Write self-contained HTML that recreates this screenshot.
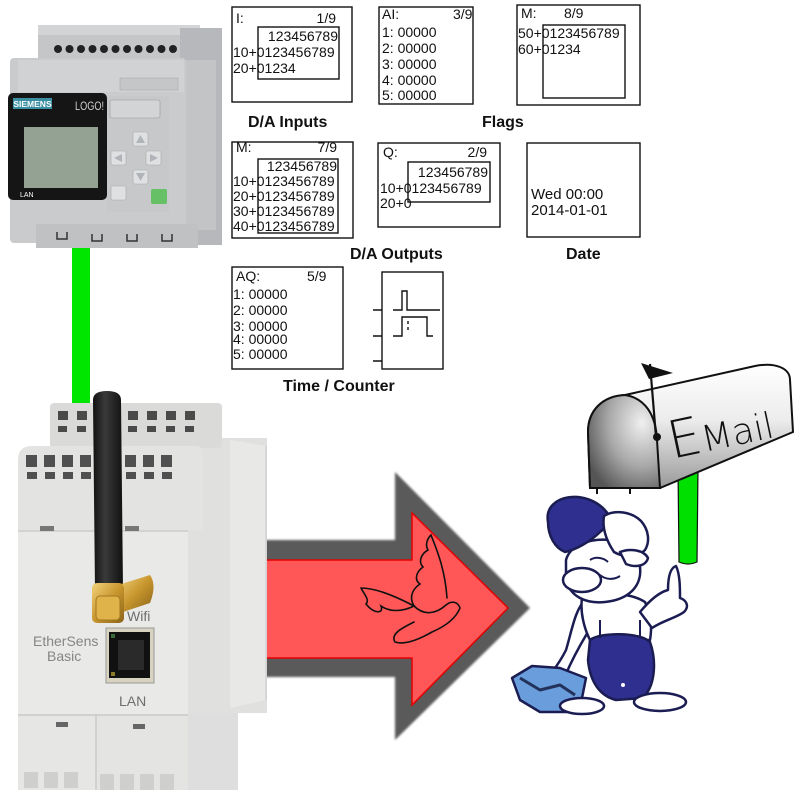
<!DOCTYPE html>
<html><head><meta charset="utf-8">
<style>
html,body{margin:0;padding:0;background:#fff;}
svg{display:block;}
.t{font-family:"Liberation Sans",sans-serif;font-size:14px;fill:#111;}
.lb{font-family:"Liberation Sans",sans-serif;font-size:16px;font-weight:bold;fill:#111;}
</style></head>
<body>
<svg width="800" height="800" viewBox="0 0 800 800" xmlns="http://www.w3.org/2000/svg">
<defs>
<linearGradient id="mbBody" x1="0" y1="0" x2="0" y2="1">
<stop offset="0" stop-color="#ffffff"/><stop offset="0.45" stop-color="#ececec"/><stop offset="1" stop-color="#9a9a9a"/>
</linearGradient>
<radialGradient id="mbFront" cx="0.75" cy="0.3" r="0.85">
<stop offset="0" stop-color="#f0f0f0"/><stop offset="0.55" stop-color="#a8a8a8"/><stop offset="1" stop-color="#555"/>
</radialGradient>
<linearGradient id="ant" x1="0" y1="0" x2="1" y2="0">
<stop offset="0" stop-color="#111"/><stop offset="0.4" stop-color="#3a3a3a"/><stop offset="1" stop-color="#111"/>
</linearGradient>
<linearGradient id="gold" x1="0" y1="0" x2="1" y2="1">
<stop offset="0" stop-color="#f3d27a"/><stop offset="0.5" stop-color="#c8962e"/><stop offset="1" stop-color="#8a6418"/>
</linearGradient>
<filter id="bl" x="-5%" y="-5%" width="110%" height="110%"><feGaussianBlur stdDeviation="1"/></filter>
</defs>

<!-- ===== LOGO device ===== -->
<rect x="38" y="25" width="162" height="40" rx="3" fill="#c4c6c8"/>
<rect x="38" y="25" width="162" height="10" fill="#d2d4d6"/>
<g fill="#222">
<circle cx="58" cy="49" r="4"/><circle cx="69.5" cy="49" r="4"/><circle cx="81" cy="49" r="4"/><circle cx="92.5" cy="49" r="4"/><circle cx="104" cy="49" r="4"/><circle cx="115.5" cy="49" r="4"/><circle cx="127" cy="49" r="4"/><circle cx="138.5" cy="49" r="4"/><circle cx="150" cy="49" r="4"/><circle cx="161.5" cy="49" r="4"/><circle cx="173" cy="49" r="4"/>
</g>
<rect x="180" y="28" width="42" height="217" fill="#b6b8bb"/>
<rect x="186" y="60" width="30" height="170" fill="#c2c4c6"/>
<rect x="10" y="58" width="176" height="185" rx="4" fill="#c9cbcd"/>
<rect x="18" y="60" width="166" height="32" fill="#d0d2d4"/>
<rect x="120" y="78" width="58" height="12" fill="#c4c6c8" stroke="#aaa" stroke-width="0.6"/>
<rect x="107" y="96" width="62" height="116" fill="#c6c8ca"/>
<rect x="8" y="93" width="99" height="107" rx="5" fill="#151515"/>
<rect x="13" y="98" width="39" height="11" fill="#3b8fa3"/>
<text x="32.5" y="107" text-anchor="middle" font-family="Liberation Sans,sans-serif" font-size="8.5" font-weight="bold" fill="#fff">SIEMENS</text>
<text x="75" y="110" font-family="Liberation Sans,sans-serif" font-size="12" fill="#d0d0d0" textLength="29" lengthAdjust="spacingAndGlyphs">LOGO!</text>
<rect x="24" y="127" width="74" height="61" fill="#93a293"/>
<text x="20" y="197" font-family="Liberation Sans,sans-serif" font-size="7" fill="#fff">LAN</text>
<rect x="110" y="100" width="50" height="18" rx="2" fill="#d2d4d6" stroke="#999" stroke-width="0.6"/>
<g fill="#dfe0e2" stroke="#a8a8a8" stroke-width="0.6">
<rect x="133" y="132" width="15" height="14" rx="2"/>
<rect x="111" y="151" width="15" height="14" rx="2"/>
<rect x="146" y="151" width="15" height="14" rx="2"/>
<rect x="133" y="170" width="15" height="14" rx="2"/>
<rect x="111" y="186" width="15" height="14" rx="2"/>
</g>
<rect x="151" y="189" width="16" height="15" rx="2" fill="#66c066"/>
<g fill="#b0b4b8"><path d="M140.5 135 L145 143 L136 143Z"/><path d="M114 158 L122 154 L122 162Z"/><path d="M158 158 L150 154 L150 162Z"/><path d="M140.5 181 L145 173 L136 173Z"/></g>
<rect x="36" y="224" width="162" height="24" fill="#bfc1c3"/>
<g stroke="#333" stroke-width="1.5" fill="none">
<path d="M57 232 v7 h10 v-7"/><path d="M92 234 v7 h10 v-7"/><path d="M127 234 v7 h10 v-7"/><path d="M162 234 v7 h10 v-7"/>
</g>

<!-- green link -->
<rect x="72" y="248" width="18" height="156" fill="#00e600"/>

<!-- ===== Panels ===== -->
<g fill="none" stroke="#111" stroke-width="1.4">
<rect x="232" y="7" width="120" height="95"/>
<rect x="258" y="27" width="81" height="52"/>
<rect x="379" y="7" width="94" height="97"/>
<rect x="517" y="5" width="123" height="100"/>
<rect x="543" y="25" width="82" height="73"/>
<rect x="232" y="142" width="121" height="96"/>
<rect x="258" y="159" width="80" height="74"/>
<rect x="378" y="143" width="122" height="84"/>
<rect x="408" y="162" width="82" height="40"/>
<rect x="527" y="143" width="113" height="94"/>
<rect x="232" y="267" width="111" height="102"/>
<rect x="382" y="272" width="61" height="97"/>
</g>
<g stroke="#111" stroke-width="1.4" fill="none">
<path d="M373 310 h9 M373 336 h9 M373 361 h9"/>
<path d="M393 310 h9 v-19 h5 v19 h33"/>
<path d="M393 336 h9 v-19 h25 v19 h6"/>
<path d="M408 321 v11" stroke-dasharray="3,3"/>
</g>
<g class="t">
<text class="t" x="236" y="23">I:</text>
<text class="t" x="336" y="23" text-anchor="end">1/9</text>
<text class="t" x="338" y="41" text-anchor="end">123456789</text>
<text class="t" x="233" y="57">10+0123456789</text>
<text class="t" x="233" y="73">20+01234</text>

<text class="t" x="382" y="19">AI:</text>
<text class="t" x="453" y="19">3/9</text>
<text class="t" x="382" y="37">1: 00000</text>
<text class="t" x="382" y="53">2: 00000</text>
<text class="t" x="382" y="69">3: 00000</text>
<text class="t" x="382" y="85">4: 00000</text>
<text class="t" x="382" y="100">5: 00000</text>

<text class="t" x="521" y="18">M:</text>
<text class="t" x="564" y="18">8/9</text>
<text class="t" x="518" y="38">50+0123456789</text>
<text class="t" x="518" y="54">60+01234</text>

<text class="t" x="236" y="152">M:</text>
<text class="t" x="337" y="152" text-anchor="end">7/9</text>
<text class="t" x="337" y="171" text-anchor="end">123456789</text>
<text class="t" x="233" y="186">10+0123456789</text>
<text class="t" x="233" y="201">20+0123456789</text>
<text class="t" x="233" y="216">30+0123456789</text>
<text class="t" x="233" y="231">40+0123456789</text>

<text class="t" x="383" y="157">Q:</text>
<text class="t" x="487" y="157" text-anchor="end">2/9</text>
<text class="t" x="488" y="177" text-anchor="end">123456789</text>
<text class="t" x="380" y="193">10+0123456789</text>
<text class="t" x="380" y="208">20+0</text>

<text class="t" x="531" y="199" style="font-size:15px">Wed 00:00</text>
<text class="t" x="531" y="215" style="font-size:15px">2014-01-01</text>

<text class="t" x="236" y="281">AQ:</text>
<text class="t" x="307" y="281">5/9</text>
<text class="t" x="233" y="299">1: 00000</text>
<text class="t" x="233" y="315">2: 00000</text>
<text class="t" x="233" y="331">3: 00000</text>
<text class="t" x="233" y="344">4: 00000</text>
<text class="t" x="233" y="359">5: 00000</text>
</g>
<text class="lb" x="248" y="127">D/A Inputs</text>
<text class="lb" x="482" y="127">Flags</text>
<text class="lb" x="350" y="259">D/A Outputs</text>
<text class="lb" x="566" y="259">Date</text>
<text class="lb" x="283" y="391">Time / Counter</text>

<!-- ===== Arrow ===== -->
<path d="M255 540 L395 540 L395 472 L530 608 L395 740 L395 677 L255 677 Z" fill="#5a5a5a" filter="url(#bl)"/>
<path d="M255 560 L412 560 L412 513 L508 608 L412 705 L412 658 L255 658 Z" fill="#ff5757" stroke="#e60000" stroke-width="1.5"/>
<g fill="none" stroke="#111" stroke-width="1.6" stroke-linecap="round">
<path d="M414 606 C408 596 414 588 420 584 C414 580 416 572 423 567 C418 562 421 554 428 550 C425 545 427 539 431 535 C436 548 445 568 447 598"/>
<path d="M361 588 C375 588 395 596 414 606 C402 612 390 612 381 606 C384 614 374 614 366 604 C370 600 364 594 361 588"/>
<path d="M414 606 C424 616 436 614 446 605 C452 600 458 602 460 608 C456 618 446 626 432 632 C418 640 404 645 395 642 C390 634 402 628 414 622"/>
</g>

<!-- ===== EtherSens device ===== -->
<rect x="183" y="438" width="84" height="275" fill="#e0e0de"/>
<path d="M230 440 L266 446 L266 700 L230 708 Z" fill="#e8e8e6"/>
<line x1="266" y1="446" x2="266" y2="700" stroke="#c8c8c6" stroke-width="1"/>
<rect x="50" y="403" width="172" height="45" rx="4" fill="#dadad8"/>
<g fill="#4a4a4a">
<rect x="58" y="411" width="10" height="9"/><rect x="77" y="411" width="10" height="9"/><rect x="128" y="411" width="10" height="9"/><rect x="147" y="411" width="10" height="9"/><rect x="166" y="411" width="10" height="9"/><rect x="185" y="411" width="10" height="9"/>
<rect x="58" y="426" width="9" height="6"/><rect x="77" y="426" width="9" height="6"/><rect x="128" y="426" width="9" height="6"/><rect x="147" y="426" width="9" height="6"/><rect x="166" y="426" width="9" height="6"/><rect x="185" y="426" width="9" height="6"/>
</g>
<path d="M18 460 Q18 446 32 446 L196 446 Q203 446 203 455 L203 530 L18 530 Z" fill="#e3e3e1"/>
<g fill="#505050">
<rect x="26" y="455" width="11" height="12"/><rect x="44" y="455" width="11" height="12"/><rect x="62" y="455" width="11" height="12"/><rect x="80" y="455" width="11" height="12"/><rect x="125" y="455" width="11" height="12"/><rect x="143" y="455" width="11" height="12"/><rect x="161" y="455" width="11" height="12"/>
<rect x="27" y="472" width="10" height="7"/><rect x="45" y="472" width="10" height="7"/><rect x="63" y="472" width="10" height="7"/><rect x="81" y="472" width="10" height="7"/><rect x="126" y="472" width="10" height="7"/><rect x="144" y="472" width="10" height="7"/><rect x="162" y="472" width="10" height="7"/>
</g>
<rect x="18" y="530" width="170" height="185" fill="#e9e9e7"/>
<line x1="18" y1="531" x2="188" y2="531" stroke="#c6c6c4" stroke-width="1.2"/>
<rect x="40" y="526" width="14" height="5" fill="#777"/>
<rect x="125" y="526" width="14" height="5" fill="#777"/>
<rect x="18" y="715" width="78" height="75" fill="#e6e6e4"/>
<rect x="96" y="715" width="92" height="75" fill="#e4e4e2"/>
<rect x="188" y="713" width="50" height="77" fill="#dedede"/>
<line x1="18" y1="715" x2="188" y2="715" stroke="#c4c4c2" stroke-width="1.2"/>
<line x1="96" y1="715" x2="96" y2="790" stroke="#c4c4c2" stroke-width="1.2"/>
<rect x="56" y="722" width="12" height="5" fill="#666"/>
<rect x="133" y="724" width="12" height="5" fill="#666"/>
<g fill="#cfcfcd">
<rect x="24" y="772" width="14" height="16"/><rect x="44" y="772" width="14" height="16"/><rect x="64" y="772" width="14" height="16"/><rect x="100" y="774" width="14" height="16"/><rect x="120" y="774" width="14" height="16"/><rect x="140" y="774" width="14" height="16"/><rect x="160" y="774" width="14" height="16"/>
</g>
<!-- antenna -->
<path d="M93 400 Q93 391 107 391 Q121 391 121 400 L123 590 L95 590 Z" fill="url(#ant)"/>
<path d="M118 585 L150 575 Q157 585 150 603 L123 612 Z" fill="url(#gold)"/>
<rect x="92" y="583" width="32" height="40" rx="5" fill="url(#gold)"/>
<rect x="96" y="596" width="24" height="24" rx="4" fill="#e0b24a" stroke="#a07820" stroke-width="1"/>
<text x="127" y="621" font-family="Liberation Sans,sans-serif" font-size="14" fill="#6e6e6e">Wifi</text>
<text x="33" y="646" font-family="Liberation Sans,sans-serif" font-size="14" fill="#858585">EtherSens</text>
<text x="47" y="661" font-family="Liberation Sans,sans-serif" font-size="14" fill="#858585">Basic</text>
<rect x="106" y="628" width="48" height="55" fill="#d8d2c0" stroke="#999" stroke-width="1"/>
<rect x="109" y="632" width="41" height="46" fill="#111"/>
<rect x="118" y="640" width="26" height="30" fill="#2a2a2a"/>
<rect x="111" y="634" width="4" height="4" fill="#3a6a3a"/>
<rect x="111" y="672" width="4" height="4" fill="#8a7a2a"/>
<text x="119" y="706" font-family="Liberation Sans,sans-serif" font-size="14" fill="#6e6e6e">LAN</text>

<!-- ===== Mailbox ===== -->
<path d="M678 468 L698 468 L697 562 Q688 566 679 562 Z" fill="#00e000" stroke="#111" stroke-width="1.2"/>
<path d="M590 488 L588 432 C588 410 603 396 625 395 L755 366 C775 362 790 368 790 380 L793 432 L660 488 Z" fill="url(#mbBody)" stroke="#111" stroke-width="2"/>
<path d="M590 488 L588 432 C588 410 603 396 625 395 C645 398 656 415 657 440 L660 488 Z" fill="url(#mbFront)" stroke="#111" stroke-width="2"/>
<path d="M597 488 v6 M630 488 v6" stroke="#111" stroke-width="2"/>
<line x1="650" y1="364" x2="656" y2="437" stroke="#111" stroke-width="2.2"/>
<circle cx="657" cy="437" r="4" fill="#111"/>
<path d="M641 363 L673 373 L649 379 Z" fill="#111"/>
<g transform="rotate(-12 676 458)" font-family="DejaVu Sans,Liberation Sans,sans-serif" font-weight="200" fill="#111">
<text x="672" y="458" font-size="52">E<tspan font-size="36">Mail</tspan></text>
</g>

<!-- ===== Mascot ===== -->
<g stroke="#1b1d52" stroke-width="2.5" stroke-linejoin="round">
<path d="M585 600 C575 610 572 630 566 650 C560 662 555 668 552 672 L565 676 C572 660 580 645 588 632 Z" fill="#fff"/>
<path d="M512 678 L532 666 L560 668 L586 678 L582 698 L570 712 L540 712 L520 700 Z" fill="#6a9ddc"/>
<path d="M520 678 L540 690 L560 685 L575 695" fill="none" stroke="#23325a" stroke-width="3"/>
<path d="M582 598 C600 592 630 592 645 602 C652 615 652 628 650 640 L590 640 C584 628 580 612 582 598 Z" fill="#fff"/>
<path d="M590 640 C600 632 640 632 650 642 C657 662 655 688 642 698 L616 700 C600 696 590 682 588 660 Z" fill="#2e2f8f"/>
<path d="M640 612 C650 600 660 592 668 590 C668 578 670 568 676 566 C680 574 680 588 680 598 C686 600 690 606 684 612 C676 618 664 620 652 628 Z" fill="#fff"/>
<path d="M566 560 C570 545 590 538 610 540 C630 542 642 556 640 575 C638 590 625 600 605 602 C585 604 570 596 566 580 Z" fill="#fff"/>
<ellipse cx="582" cy="580" rx="19" ry="12" fill="#fff"/>
<path d="M548 522 C545 505 560 496 578 497 C596 499 608 510 612 522 L600 532 C590 542 575 550 565 552 C555 548 548 536 548 522 Z" fill="#2e2f8f"/>
<path d="M604 516 C615 509 632 512 641 521 C649 530 650 542 645 550 C638 557 624 558 614 552 C606 540 602 528 604 516 Z" fill="#fff"/>
<path d="M620 552 C630 548 644 550 648 558 C646 566 636 568 626 564 Z" fill="#fff"/>
<ellipse cx="582" cy="706" rx="22" ry="8" fill="#fff"/>
<ellipse cx="660" cy="702" rx="26" ry="9" fill="#fff"/>
</g>
<g fill="none" stroke="#1b1d52" stroke-width="2">
<path d="M590 560 C596 556 604 558 608 562"/>
<path d="M600 575 C606 580 614 580 620 576"/>
<path d="M600 620 v18 M640 620 v18"/>
</g>
<circle cx="623" cy="685" r="2" fill="#fff"/>
</svg>
</body></html>
